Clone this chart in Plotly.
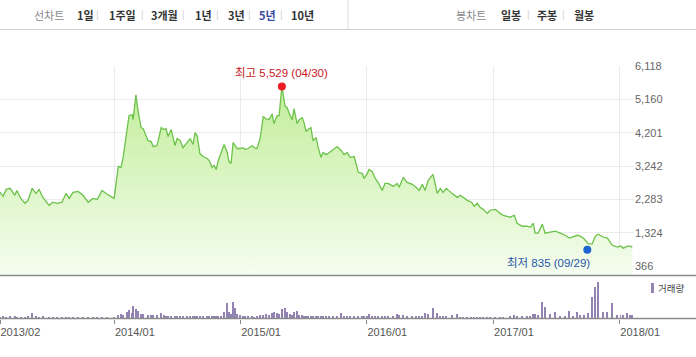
import plotly.graph_objects as go

# ---------------- data ----------------
dates = [
    "2013-02-04","2013-02-13","2013-02-22","2013-03-05","2013-03-19","2013-03-25","2013-04-05","2013-04-17",
    "2013-04-26","2013-05-08","2013-05-19","2013-05-28","2013-06-08","2013-06-26","2013-07-07","2013-07-19",
    "2013-08-02","2013-08-14","2013-08-23","2013-09-03","2013-09-18","2013-10-02","2013-10-17","2013-10-31",
    "2013-11-12","2013-11-26","2013-12-11","2013-12-31",
    "2014-01-12","2014-01-20","2014-01-26","2014-02-06","2014-02-12","2014-02-21","2014-02-24","2014-03-04",
    "2014-03-10","2014-03-19","2014-03-25","2014-04-08","2014-04-17","2014-04-23","2014-05-04","2014-05-16",
    "2014-05-24","2014-05-30","2014-06-05","2014-06-14","2014-06-25","2014-07-01","2014-07-10","2014-07-18",
    "2014-07-30","2014-08-08","2014-08-16","2014-08-22","2014-08-28","2014-09-05","2014-09-14","2014-09-26",
    "2014-10-02","2014-10-10","2014-10-16","2014-10-22","2014-10-28","2014-11-05","2014-11-14","2014-11-23",
    "2014-11-28","2014-12-04","2014-12-10","2014-12-16","2014-12-22","2014-12-31",
    "2015-01-08","2015-01-14","2015-01-22","2015-02-03","2015-02-09","2015-02-17","2015-02-26","2015-03-07",
    "2015-03-15","2015-03-24","2015-04-02","2015-04-07","2015-04-16","2015-04-22","2015-04-30","2015-05-09",
    "2015-05-15","2015-05-24","2015-05-30","2015-06-04","2015-06-13","2015-06-19","2015-06-28","2015-07-03",
    "2015-07-09","2015-07-15","2015-07-23","2015-07-29","2015-08-07","2015-08-13","2015-08-21","2015-08-27",
    "2015-09-05","2015-09-14","2015-09-25","2015-10-07","2015-10-18","2015-10-27","2015-11-05","2015-11-13",
    "2015-11-25","2015-12-07","2015-12-18","2015-12-24","2016-01-02",
    "2016-01-07","2016-01-16","2016-01-25","2016-02-02","2016-02-14","2016-02-22","2016-03-02","2016-03-17",
    "2016-03-28","2016-04-03","2016-04-15","2016-04-26","2016-05-11","2016-05-22","2016-05-31","2016-06-09",
    "2016-06-17","2016-06-26","2016-07-10","2016-07-22","2016-07-31","2016-08-08","2016-08-17","2016-09-03",
    "2016-09-18","2016-09-27","2016-10-05","2016-10-17","2016-10-29","2016-11-06","2016-11-15","2016-11-23",
    "2016-12-02","2016-12-14","2016-12-22",
    "2017-01-06","2017-01-20","2017-01-29","2017-02-18","2017-03-02","2017-03-10","2017-03-25","2017-04-08",
    "2017-04-17","2017-04-26","2017-05-01","2017-05-10","2017-05-22","2017-05-30","2017-06-14","2017-06-28",
    "2017-07-13","2017-07-27","2017-08-08","2017-08-19","2017-08-31","2017-09-09","2017-09-20","2017-10-02",
    "2017-10-13","2017-10-22","2017-10-31","2017-11-14","2017-11-26","2017-12-10","2017-12-25","2018-01-03",
    "2018-01-11","2018-01-23","2018-01-31","2018-02-06",
]

prices = [
    2493,2370,2570,2600,2400,2540,2310,2170,2255,2600,2455,2570,2340,2110,2200,2170,2200,2455,2310,2485,
    2510,2400,2200,2310,2280,2540,2430,2310,
    3230,3200,3490,4345,4690,4720,4575,5290,4830,4345,4315,3970,3945,3800,3830,4345,4290,4315,4090,4290,
    3830,4030,3970,3770,3915,4030,3860,4200,4115,3600,3515,3460,3400,3200,3260,3140,3400,3600,3860,3630,
    3370,3315,3915,3830,3745,3745,
    3770,3715,3745,3830,3770,3745,4030,4660,4600,4575,4745,4460,4690,4690,5529,4975,4920,4690,4575,4890,
    4460,4575,4630,4490,4230,4290,4345,3970,4060,3770,3490,3630,3570,3630,3715,3800,3690,3570,3630,3490,
    3515,3060,3030,2885,3030,
    3140,3085,2885,2770,2540,2740,2740,2655,2740,2630,2915,2770,2715,2630,2540,2715,2540,2830,3000,2455,
    2600,2485,2600,2455,2340,2400,2340,2255,2200,2085,2170,2055,1995,1880,1970,
    1995,1880,1825,1770,1825,1595,1510,1510,1480,1595,1310,1310,1570,1310,1340,1370,1310,1250,1170,1200,
    1250,1225,1140,1000,1000,1225,1280,1200,1170,970,910,940,880,940,940,910,
]

volumes = [
    15,20,15,20,20,15,15,15,20,50,20,15,20,15,5,5,10,10,10,10,10,10,10,10,10,15,15,10,
    30,40,30,60,80,50,120,90,70,40,40,30,30,30,30,50,30,25,25,25,25,25,20,25,25,20,25,25,20,20,
    20,25,20,20,25,20,20,25,60,150,60,40,160,100,40,30,
    20,25,20,20,15,25,35,30,40,30,50,60,50,40,90,100,60,40,35,60,70,30,30,25,25,20,20,20,20,20,
    20,20,20,20,20,25,50,25,20,20,20,20,20,20,20,
    40,20,20,20,20,20,25,25,40,30,30,25,25,25,20,25,50,40,100,50,25,20,20,30,40,15,15,15,15,15,
    15,15,15,15,15,
    15,15,15,20,30,20,20,20,25,40,40,30,160,110,40,60,20,20,70,20,60,30,30,50,210,310,360,60,60,150,
    30,30,35,50,30,30,
]

y_ticks = [366, 1324, 2283, 3242, 4201, 5160, 6118]
y_tick_text = ["366", "1,324", "2,283", "3,242", "4,201", "5,160", "6,118"]
x_ticks = ["2013-02-04", "2014-01-01", "2015-01-01", "2016-01-01", "2017-01-01", "2018-01-01"]
x_tick_text = ["2013/02", "2014/01", "2015/01", "2016/01", "2017/01", "2018/01"]

max_date, max_value, max_label = "2015-04-30", 5529, "최고 5,529 (04/30)"
min_date, min_value, min_label = "2017-09-29", 835, "최저 835 (09/29)"

period_tabs = ["1일", "1주일", "3개월", "1년", "3년", "5년", "10년"]
candle_tabs = ["일봉", "주봉", "월봉"]

# ---------------- layout helpers ----------------
W, H = 696, 357
def px(x):
    return x / W
def py(y):
    return 1 - y / H

FONT_NUM = "Arial, 'Liberation Sans', 'Noto Sans CJK KR', sans-serif"
FONT_KR = "'Noto Sans CJK KR', sans-serif"

fig = go.Figure()

fig.add_trace(go.Scatter(
    x=dates, y=prices, mode="lines",
    line=dict(color="#6cc24a", width=1.3),
    fill="tozeroy",
    fillgradient=dict(type="vertical",
                      colorscale=[[0, "rgba(246,253,241,1)"], [1, "rgba(194,238,154,1)"]]),
    hoverinfo="skip", showlegend=False, xaxis="x", yaxis="y",
))

fig.add_trace(go.Scatter(
    x=[max_date], y=[max_value], mode="markers",
    marker=dict(color="#ee1c24", size=8), showlegend=False, xaxis="x", yaxis="y",
))
fig.add_trace(go.Scatter(
    x=[min_date], y=[min_value], mode="markers",
    marker=dict(color="#1d64d0", size=8), showlegend=False, xaxis="x", yaxis="y",
))

fig.add_trace(go.Bar(
    x=dates, y=volumes, marker=dict(color="#9383b3", line=dict(width=0)),
    width=2.6 * 86400000, showlegend=False, xaxis="x2", yaxis="y2",
))

x_range = ["2013-02-04", "2018-02-11"]
x_dom = [0, px(634)]

fig.update_layout(
    width=W, height=H,
    margin=dict(l=0, r=0, t=0, b=0, autoexpand=False),
    paper_bgcolor="white", plot_bgcolor="white",
    bargap=0, showlegend=False,
    xaxis=dict(domain=x_dom, range=x_range, type="date", anchor="y",
               tickvals=x_ticks, showticklabels=False, ticks="",
               showgrid=True, gridcolor="#ebebeb", gridwidth=1,
               zeroline=False, showline=False, fixedrange=True, automargin=False),
    yaxis=dict(domain=[py(275.5), py(66)], range=[93, 6118], side="right", anchor="x",
               tickvals=y_ticks, ticktext=y_tick_text,
               tickfont=dict(family=FONT_NUM, size=11, color="#666"),
               showgrid=True, gridcolor="#ebebeb", gridwidth=1,
               zeroline=False, showline=False, ticks="", ticklen=0, automargin=False),
    xaxis2=dict(domain=x_dom, range=x_range, type="date", anchor="y2", matches="x",
                tickvals=x_ticks, ticktext=x_tick_text,
                ticks="outside", ticklen=4, tickcolor="#888", tickwidth=1,
                ticklabelposition="outside right", ticklabelstandoff=3,
                tickfont=dict(family=FONT_NUM, size=11, color="#555"),
                showgrid=False, zeroline=False, showline=False, automargin=False),
    yaxis2=dict(domain=[py(318.5), py(278)], range=[0, 400], anchor="x2",
                showticklabels=False, showgrid=False, zeroline=False, showline=False,
                automargin=False),
)

shapes = [
    dict(type="line", xref="paper", yref="paper", x0=0, x1=1, y0=py(29.5), y1=py(29.5),
         line=dict(color="#cfcfcf", width=1)),
    dict(type="line", xref="paper", yref="paper", x0=px(348), x1=px(348), y0=py(0), y1=py(29.5),
         line=dict(color="#dddddd", width=1)),
    dict(type="line", xref="paper", yref="paper", x0=0, x1=1, y0=py(275.5), y1=py(275.5),
         line=dict(color="#8a8a8a", width=1.5)),
    dict(type="line", xref="paper", yref="paper", x0=0, x1=1, y0=py(318.5), y1=py(318.5),
         line=dict(color="#8a8a8a", width=1.5)),
    dict(type="rect", xref="paper", yref="paper", x0=px(651), x1=px(654), y0=py(293), y1=py(283),
         fillcolor="#9383b3", line=dict(width=0)),
]
fig.update_layout(shapes=shapes)

ann = []
ann.append(dict(x=max_date, y=max_value, xref="x", yref="y", text=max_label, showarrow=False,
                yshift=13, font=dict(family=FONT_NUM, size=11.5, color="#c8161d")))
ann.append(dict(x=min_date, y=min_value, xref="x", yref="y", text=min_label, showarrow=False,
                xanchor="right", xshift=5, yshift=-13,
                font=dict(family=FONT_NUM, size=11.5, color="#2756a6")))
ann.append(dict(x=px(656), y=py(288), xref="paper", yref="paper", text="거래량", showarrow=False,
                xanchor="left", yanchor="middle", font=dict(family=FONT_KR, size=9.5, color="#444")))

ty = py(15)
ann.append(dict(x=px(32), y=ty, xref="paper", yref="paper", text="선차트", showarrow=False,
                xanchor="left", yanchor="middle", font=dict(family=FONT_KR, size=11, color="#8a8a8a")))
period_x = [75, 107, 149, 193, 226, 257, 289]
sep1_x = [97, 142, 183, 217, 250, 281]
for lab, x in zip(period_tabs, period_x):
    col = "#3a4a9f" if lab == "5년" else "#333333"
    ann.append(dict(x=px(x), y=ty, xref="paper", yref="paper", text="<b>%s</b>" % lab, showarrow=False,
                    xanchor="left", yanchor="middle", font=dict(family=FONT_KR, size=11, color=col)))
for x in sep1_x:
    ann.append(dict(x=px(x), y=ty, xref="paper", yref="paper", text="|", showarrow=False,
                    xanchor="center", yanchor="middle", font=dict(family=FONT_NUM, size=10, color="#d5d5d5")))
ann.append(dict(x=px(454), y=ty, xref="paper", yref="paper", text="봉차트", showarrow=False,
                xanchor="left", yanchor="middle", font=dict(family=FONT_KR, size=11, color="#8a8a8a")))
candle_x = [499, 535, 572]
for lab, x in zip(candle_tabs, candle_x):
    ann.append(dict(x=px(x), y=ty, xref="paper", yref="paper", text="<b>%s</b>" % lab, showarrow=False,
                    xanchor="left", yanchor="middle", font=dict(family=FONT_KR, size=11, color="#333333")))
for x in [528, 563]:
    ann.append(dict(x=px(x), y=ty, xref="paper", yref="paper", text="|", showarrow=False,
                    xanchor="center", yanchor="middle", font=dict(family=FONT_NUM, size=10, color="#d5d5d5")))

fig.update_layout(annotations=ann)

fig.write_html("out.html", config={"displayModeBar": False},
               post_script="document.body.style.margin='0';document.body.style.overflow='hidden';")
